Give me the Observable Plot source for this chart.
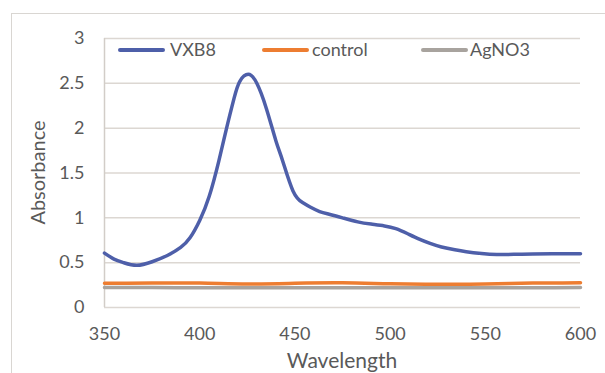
<!DOCTYPE html>
<html>
<head>
<meta charset="utf-8">
<script src="https://cdn.jsdelivr.net/npm/d3@7"></script>
<script src="https://cdn.jsdelivr.net/npm/@observablehq/plot@0.6"></script>
<style>
  html, body { margin: 0; padding: 0; background: #fff; }
  #wrap { position: relative; width: 605px; height: 373px; overflow: hidden; font-family: Lato, "Open Sans", sans-serif; color: #595959; }
  #frame { position: absolute; left: 11px; top: 13px; width: 700px; height: 500px; border-left: 1px solid #d9d6d2; border-top: 1px solid #d9d6d2; }
  #chart { position: absolute; left: 0; top: 0; }
  .lg { position: absolute; font-size: 18px; line-height: 20px; }
  .sw { position: absolute; height: 4px; border-radius: 2px; }
</style>
</head>
<body>
<div id="wrap">
  <div id="frame"></div>
  <div id="chart"></div>
</div>
<script>
// ---- data ----
const seriesNames = ["VXB8", "control", "AgNO3"];
const seriesColors = ["#4e5fa9", "#ed7d31", "#a8a39e"];

const vxb8Wavelength = [350,355,360,367,375,383,390,395,400,405,410,414,418,421,425.5,430,435,440,443.5,449,454,458,463,468,475,483,490,497,503,509,515,521,527,534,540,548,556,565,575,585,600];
const vxb8Absorbance = [0.607,0.54,0.5,0.47,0.51,0.58,0.67,0.78,0.97,1.24,1.63,1.99,2.33,2.52,2.6,2.5,2.22,1.86,1.64,1.3,1.17,1.12,1.07,1.04,1.0,0.955,0.93,0.91,0.88,0.825,0.765,0.715,0.675,0.643,0.622,0.603,0.592,0.593,0.598,0.6,0.6];

const controlWavelength = [350,375,400,425,450,475,500,525,550,575,600];
const controlAbsorbance = [0.27,0.272,0.272,0.263,0.27,0.275,0.265,0.26,0.262,0.272,0.275];

const agWavelength = [350,375,400,425,450,475,500,525,550,575,600];
const agAbsorbance = [0.222,0.222,0.22,0.22,0.22,0.22,0.22,0.22,0.22,0.22,0.222];

const xTicks = [350,400,450,500,550,600];
const yTicks = [0,0.5,1,1.5,2,2.5,3];

// ---- build table ----
const rows = [];
vxb8Wavelength.forEach((w,i) => rows.push({series: "VXB8", w, a: vxb8Absorbance[i]}));
controlWavelength.forEach((w,i) => rows.push({series: "control", w, a: controlAbsorbance[i]}));
agWavelength.forEach((w,i) => rows.push({series: "AgNO3", w, a: agAbsorbance[i]}));

const plot = Plot.plot({
  width: 605,
  height: 373,
  marginLeft: 104,
  marginRight: 25,
  marginTop: 38,
  marginBottom: 66,
  style: {fontFamily: "Lato, 'Open Sans', sans-serif", fontSize: "18px", color: "#595959", background: "transparent", overflow: "visible"},
  x: {domain: [350, 600], ticks: xTicks, tickSize: 0, tickPadding: 20, label: null},
  y: {domain: [0, 3], ticks: yTicks, tickSize: 0, tickPadding: 20, label: null, tickFormat: d => String(d)},
  color: {domain: seriesNames, range: seriesColors},
  marks: [
    Plot.ruleY(yTicks, {stroke: "#dcd7d2", strokeWidth: 1.5}),
    Plot.ruleX([350], {stroke: "#d2cdc8", strokeWidth: 1.5}),
    Plot.line(rows.filter(d => d.series === "AgNO3"), {x: "w", y: "a", stroke: "series", strokeWidth: 3.5, curve: "natural"}),
    Plot.line(rows.filter(d => d.series === "control"), {x: "w", y: "a", stroke: "series", strokeWidth: 3.5, curve: "natural"}),
    Plot.line(rows.filter(d => d.series === "VXB8"), {x: "w", y: "a", stroke: "series", strokeWidth: 3.5, curve: "natural"})
  ]
});
document.getElementById("chart").appendChild(plot);

// axis titles
const svg = d3.select(plot);
svg.append("text")
  .attr("transform", "translate(38,172.5) rotate(-90)")
  .attr("text-anchor", "middle").attr("dy", "0.35em")
  .attr("fill", "#595959").style("font-size", "20px")
  .text("Absorbance");
svg.append("text")
  .attr("x", 342).attr("y", 368)
  .attr("text-anchor", "middle")
  .attr("fill", "#595959").style("font-size", "21px")
  .text("Wavelength");

// legend
const wrap = document.getElementById("wrap");
const legendPos = [[118, 170], [262, 312], [421, 470]];
seriesNames.forEach((name, i) => {
  const sw = document.createElement("div");
  sw.className = "sw";
  sw.style.left = legendPos[i][0] + "px";
  sw.style.top = "48px";
  sw.style.width = "47px";
  sw.style.background = seriesColors[i];
  wrap.appendChild(sw);
  const t = document.createElement("div");
  t.className = "lg";
  t.style.left = legendPos[i][1] + "px";
  t.style.top = "39px";
  t.textContent = name;
  wrap.appendChild(t);
});
</script>
</body>
</html>
